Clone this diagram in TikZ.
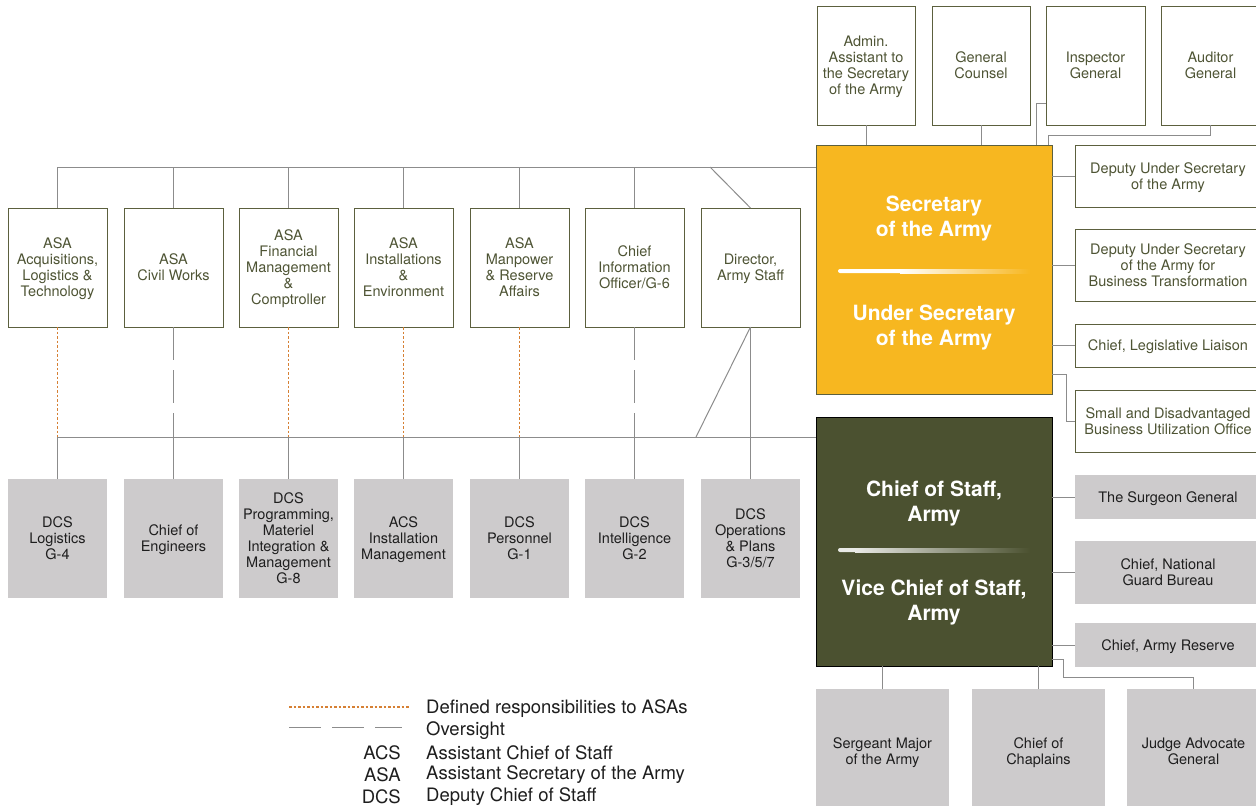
\documentclass[tikz,border=0pt]{standalone}
\usepackage{fontspec}
\setmainfont{TeX Gyre Heros}
\usepackage{tikz}
\usepackage{xcolor}
\usetikzlibrary{positioning}

\definecolor{secorange}{RGB}{247,183,32}
\definecolor{cosolive}{RGB}{75,81,48}
\definecolor{boxline}{RGB}{92,96,62}
\definecolor{textolive}{RGB}{78,84,52}
\definecolor{graybox}{RGB}{205,203,204}
\definecolor{darktext}{RGB}{30,30,30}
\definecolor{linkgray}{RGB}{140,140,140}
\definecolor{asaorange}{RGB}{214,128,52}

\begin{document}
\begin{tikzpicture}[x=1pt,y=-1pt,
  link/.style={draw=linkgray,line width=1pt},
  asaline/.style={draw=asaorange,line width=1.5pt,dash pattern=on 2.5pt off 2pt},
  oversight/.style={draw=linkgray,line width=1pt,dash pattern=on 33pt off 10pt},
  wbox/.style={draw=boxline,fill=white,line width=1pt,text=textolive,align=center,
    font=\fontsize{14.5}{16}\selectfont,inner sep=0pt,outer sep=0pt,anchor=north west,
    minimum width=99pt,minimum height=119pt,text depth=0pt},
  gbox/.style={wbox,draw=none,fill=graybox,text=darktext},
  headtext/.style={text=white,align=center,font=\fontsize{21}{25}\selectfont\bfseries},
  legtext/.style={text=darktext,font=\fontsize{18.5}{22}\selectfont,inner sep=0pt}]
\useasboundingbox (0,0) rectangle (1256,806);

% Secretary and Chief of Staff
\node[wbox,draw=boxline,fill=secorange,minimum width=236pt,minimum height=249pt] (sec) at (816,145) {};
\node[wbox,draw=black,fill=cosolive,minimum width=236pt,minimum height=249pt] (cos) at (816,417) {};
\node[headtext] (secname) at (934,219) {Secretary\\of the Army};
\node[headtext] (usecname) at (934,328) {Under Secretary\\of the Army};
\node[headtext] (cosname) at (934,503) {Chief of Staff,\\Army};
\node[headtext] (vcosname) at (934,602.5) {Vice Chief of Staff,\\Army};
\fill[white,rounded corners=2pt] (838,269) rectangle (905,273);
\shade[left color=white,right color=secorange] (900,269) rectangle (1030,273);
\fill[white!88!cosolive,rounded corners=2pt] (838,548) rectangle (860,552);
\shade[left color=white!88!cosolive,right color=cosolive] (855,548) rectangle (1030,552);

% Top row
\node[wbox,minimum width=98pt] (admin) at (817,6) {Admin.\\Assistant to\\the Secretary\\of the Army};
\node[wbox,minimum width=98pt] (gc) at (932,6) {General\\Counsel};
\node[wbox] (ig) at (1046,6) {Inspector\\General};
\node[wbox] (ag) at (1161,6) {Auditor\\General};

% Right of Secretary
\node[wbox,minimum width=186pt,minimum height=62pt] (dus) at (1075,145) {Deputy Under Secretary\\of the Army};
\node[wbox,minimum width=186pt,minimum height=72pt] (dusbt) at (1075,229) {Deputy Under Secretary\\of the Army for\\Business Transformation};
\node[wbox,minimum width=186pt,minimum height=43pt] (cll) at (1075,324) {Chief, Legislative Liaison};
\node[wbox,minimum width=186pt,minimum height=62pt] (sdbu) at (1075,390) {Small and Disadvantaged\\Business Utilization Office};

% Right of Chief of Staff
\node[gbox,minimum width=186pt,minimum height=44pt] (tsg) at (1075,475) {The Surgeon General};
\node[gbox,minimum width=186pt,minimum height=63pt] (ngb) at (1075,541) {Chief, National\\Guard Bureau};
\node[gbox,minimum width=186pt,minimum height=44pt] (car) at (1075,623) {Chief, Army Reserve};

% Below Chief of Staff
\node[gbox,minimum width=133pt,minimum height=124pt] (sma) at (816,689) {Sergeant Major\\of the Army};
\node[gbox,minimum width=133pt,minimum height=124pt] (coc) at (972,689) {Chief of\\Chaplains};
\node[gbox,minimum width=133pt,minimum height=124pt] (jag) at (1127,689) {Judge Advocate\\General};

% Assistant secretaries
\node[wbox] (asaalt) at (8,208) {ASA\\Acquisitions,\\Logistics \&\\Technology};
\node[wbox] (asacw) at (124,208) {ASA\\Civil Works};
\node[wbox] (asafm) at (239,208) {ASA\\Financial\\Management\\\&\\Comptroller};
\node[wbox] (asaie) at (354,208) {ASA\\Installations\\\&\\Environment};
\node[wbox] (asamra) at (470,208) {ASA\\Manpower\\\& Reserve\\Affairs};
\node[wbox] (cio) at (585,208) {Chief\\Information\\Officer/G-6};
\node[wbox] (das) at (701,208) {Director,\\Army Staff};

% Army staff
\node[gbox] (gfour) at (8,479) {DCS\\Logistics\\G-4};
\node[gbox] (coe) at (124,479) {Chief of\\Engineers};
\node[gbox] (geight) at (239,479) {DCS\\Programming,\\Materiel\\Integration \&\\Management\\G-8};
\node[gbox] (acsim) at (354,479) {ACS\\Installation\\Management};
\node[gbox] (gone) at (470,479) {DCS\\Personnel\\G-1};
\node[gbox] (gtwo) at (585,479) {DCS\\Intelligence\\G-2};
\node[gbox] (gthree) at (701,479) {DCS\\Operations\\\& Plans\\G-3/5/7};

% Bus points
\coordinate (topbus) at (816,167);
\coordinate (lowbus) at (816,437);
\coordinate (dirtop) at (710,167);
\coordinate (dirlow) at (696,437);
\coordinate (igturn) at (1036,103);
\coordinate (agturn) at (1048,135);
\coordinate (sdbuturn) at (1066,374);
\coordinate (jagturn) at (1063,659);
\coordinate (jagdrop) at (1063,677);

% Connections, top
\draw[link] (asaalt.north) |- (topbus);
\draw[link] (asacw.north) -- (asacw.north |- topbus);
\draw[link] (asafm.north) -- (asafm.north |- topbus);
\draw[link] (asaie.north) -- (asaie.north |- topbus);
\draw[link] (asamra.north) -- (asamra.north |- topbus);
\draw[link] (cio.north) -- (cio.north |- topbus);
\draw[link] (dirtop) -- (das.north);
\draw[link] (admin.south) -- (admin.south |- sec.north);
\draw[link] (gc.south) -- (gc.south |- sec.north);
\draw[link] (igturn -| ig.west) -- (igturn) -- (igturn |- sec.north);
\draw[link] (ag.south) |- (agturn) -- (agturn |- sec.north);

% Connections, Secretary side
\draw[link] (sec.east |- dus.west) -- (dus.west);
\draw[link] (sec.east |- dusbt.west) -- (dusbt.west);
\draw[link] (sec.east |- cll.west) -- (cll.west);
\draw[link] (sdbuturn -| sec.east) -- (sdbuturn) |- (sdbu.west);

% Connections, Chief of Staff side
\draw[link] (cos.east |- tsg.west) -- (tsg.west);
\draw[link] (cos.east |- ngb.west) -- (ngb.west);
\draw[link] (cos.east |- car.west) -- (car.west);
\draw[link] (sma.north) -- (sma.north |- cos.south);
\draw[link] (coc.north) -- (coc.north |- cos.south);
\draw[link] (jagturn -| cos.east) -- (jagturn) -- (jagdrop) -| (jag.north);

% Connections, army staff
\draw[link] (gfour.north) |- (lowbus);
\draw[link] (coe.north) -- (coe.north |- lowbus);
\draw[link] (geight.north) -- (geight.north |- lowbus);
\draw[link] (acsim.north) -- (acsim.north |- lowbus);
\draw[link] (gone.north) -- (gone.north |- lowbus);
\draw[link] (gtwo.north) -- (gtwo.north |- lowbus);
\draw[link] (gthree.north) -- (das.south);
\draw[link] (das.south) -- (dirlow);

% ASA responsibilities and oversight
\draw[asaline] (asaalt.south) -- (asaalt.south |- lowbus);
\draw[asaline] (asafm.south) -- (asafm.south |- lowbus);
\draw[asaline] (asaie.south) -- (asaie.south |- lowbus);
\draw[asaline] (asamra.south) -- (asamra.south |- lowbus);
\draw[oversight] (asacw.south) -- (asacw.south |- lowbus);
\draw[oversight] (cio.south) -- (cio.south |- lowbus);

% Legend
\draw[asaline,line width=1.2pt] (289,707) -- (409,707);
\draw[oversight,dash pattern=on 32pt off 11pt] (289,727) -- (402,727);
\node[legtext,anchor=west] (legdef) at (426,709) {Defined responsibilities to ASAs};
\node[legtext,anchor=west] (legover) at (426,731) {Oversight};
\node[legtext,anchor=west] (legacs) at (426,753) {Assistant Chief of Staff};
\node[legtext,anchor=west] (legasa) at (426,775) {Assistant Secretary of the Army};
\node[legtext,anchor=west] (legdcs) at (426,797) {Deputy Chief of Staff};
\node[legtext,anchor=east] (abacs) at (401,753) {ACS};
\node[legtext,anchor=east] (abasa) at (401,775) {ASA};
\node[legtext,anchor=east] (abdcs) at (401,797) {DCS};
\end{tikzpicture}
\end{document}
